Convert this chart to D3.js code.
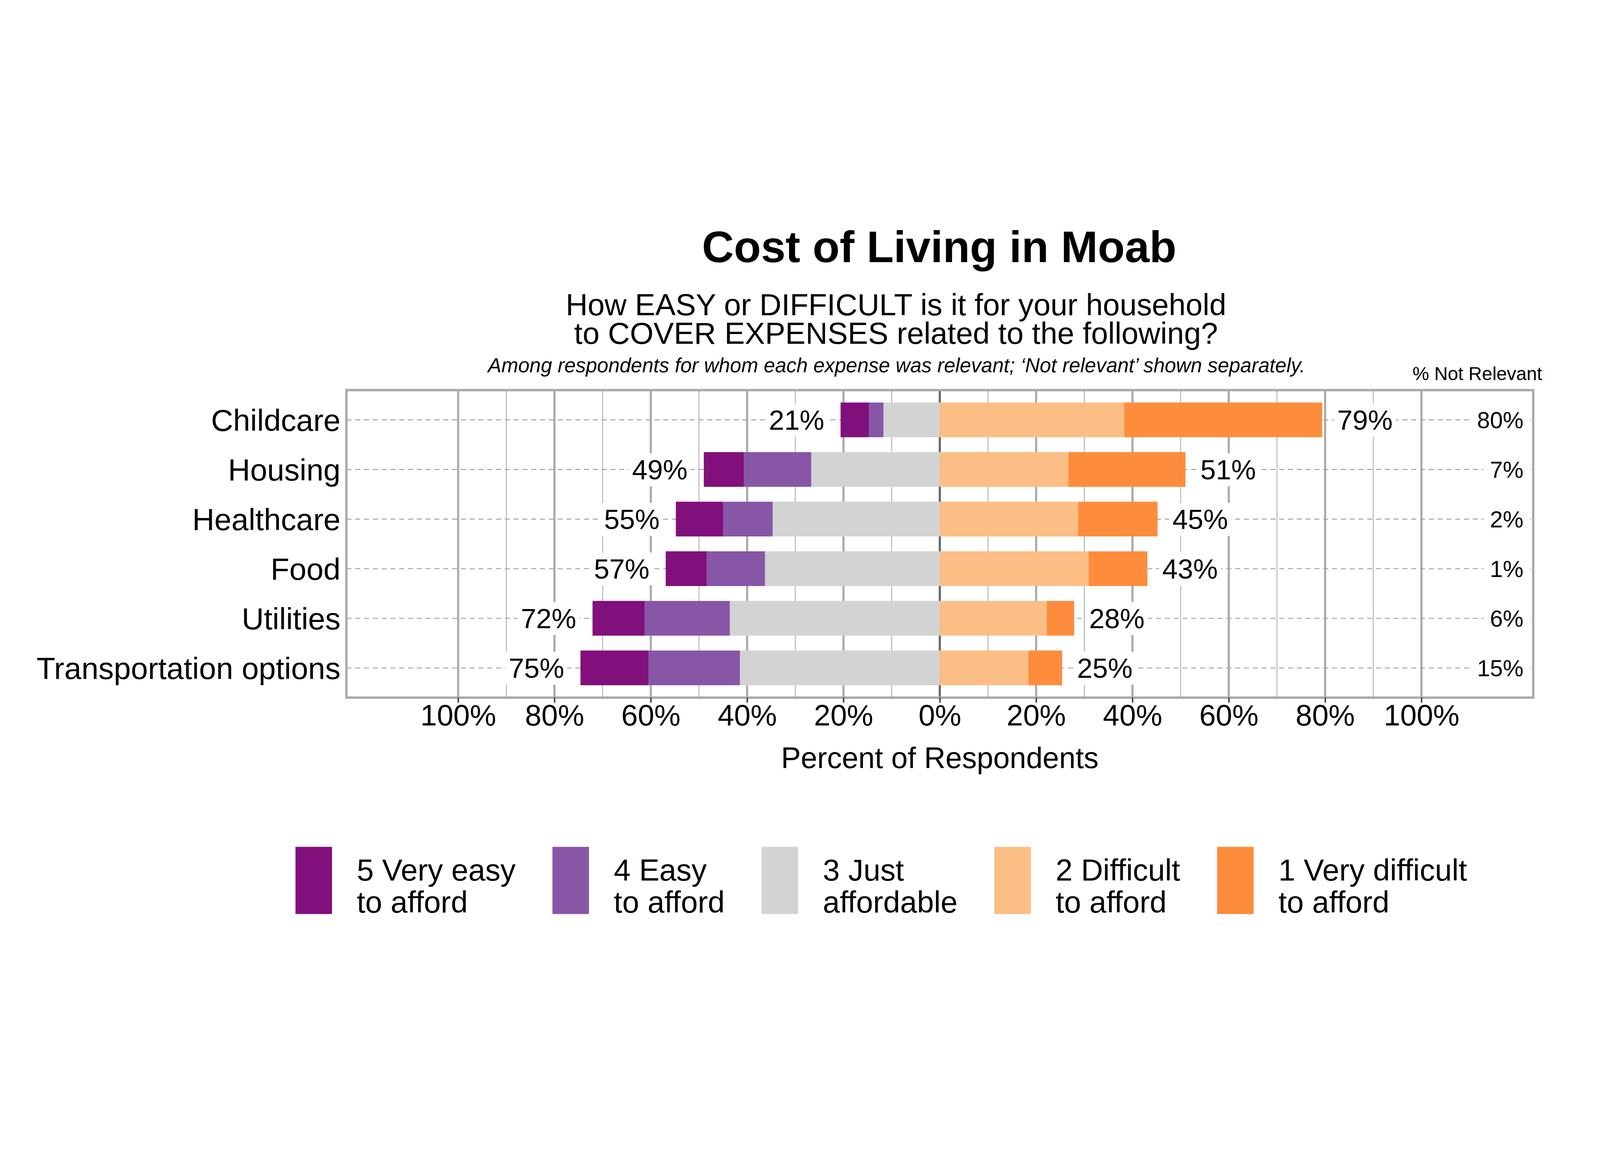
<!DOCTYPE html>
<html>
<head>
<meta charset="utf-8">
<script src="https://cdn.jsdelivr.net/npm/d3@7"></script>
<style>
  html, body { margin: 0; padding: 0; width: 100%; height: 100%; overflow: hidden; background: #fff; }
  svg { display: block; width: 100vw; height: 100vh; }
  text { font-family: "Liberation Sans", Arial, sans-serif; }
</style>
</head>
<body>
<script>
// values (percent of respondents for whom the expense was relevant)
const categories = ['Childcare', 'Housing', 'Healthcare', 'Food', 'Utilities', 'Transportation options'];
const veryEasy = [5.9, 8.3, 9.8, 8.5, 10.8, 14.1];
const easy = [3.0, 14.0, 10.3, 12.1, 17.7, 19.0];
const justAffordable = [11.7, 26.7, 34.7, 36.3, 43.6, 41.5];
const difficult = [38.3, 26.7, 28.7, 30.9, 22.2, 18.4];
const veryDifficult = [41.1, 24.3, 16.5, 12.2, 5.7, 7.0];
const notRelevant = [80, 7, 2, 1, 6, 15];

const majorTicks = [-100, -80, -60, -40, -20, 0, 20, 40, 60, 80, 100];
const minorTicks = [-90, -70, -50, -30, -10, 10, 30, 50, 70, 90];

const legendLabels = [
  ['5 Very easy', 'to afford'],
  ['4 Easy', 'to afford'],
  ['3 Just', 'affordable'],
  ['2 Difficult', 'to afford'],
  ['1 Very difficult', 'to afford']
];
const colors = ['#810f7c', '#8856a7', '#d3d3d3', '#fdbe85', '#fd8d3c'];

const W = 6000, H = 3000;
const panel = { left: 1299, right: 5749.5, top: 765.5, bottom: 1918.6 };

const svg = d3.select('body').append('svg')
  .attr('viewBox', `0 0 ${W} ${H}`)
  .attr('preserveAspectRatio', 'xMidYMid meet');
svg.append('rect').attr('width', W).attr('height', H).attr('fill', '#fff');

const x = d3.scaleLinear().domain([-123.2, 123.2]).range([panel.left, panel.right]);
const y = d3.scaleBand().domain(categories).range([panel.top, panel.bottom])
  .paddingInner(0.3).paddingOuter(0.25);

// vertical grid
svg.append('g').selectAll('line').data(minorTicks).enter().append('line')
  .attr('x1', d => x(d)).attr('x2', d => x(d))
  .attr('y1', panel.top).attr('y2', panel.bottom)
  .attr('stroke', '#b4b4b4').attr('stroke-width', 3.5);
svg.append('g').selectAll('line').data(majorTicks.filter(d => d !== 0)).enter().append('line')
  .attr('x1', d => x(d)).attr('x2', d => x(d))
  .attr('y1', panel.top).attr('y2', panel.bottom)
  .attr('stroke', '#aaaaaa').attr('stroke-width', 8);
svg.append('line')
  .attr('x1', x(0)).attr('x2', x(0)).attr('y1', panel.top).attr('y2', panel.bottom)
  .attr('stroke', '#666666').attr('stroke-width', 8);

// dashed horizontal grid
svg.append('g').selectAll('line').data(categories).enter().append('line')
  .attr('x1', panel.left).attr('x2', panel.right)
  .attr('y1', d => y(d) + y.bandwidth() / 2).attr('y2', d => y(d) + y.bandwidth() / 2)
  .attr('stroke', '#a0a0a0').attr('stroke-width', 3.5).attr('stroke-dasharray', '19,14');

// stacked segments: left side = just, easy, very easy going out from zero; right side = difficult, very difficult
const segs = [];
categories.forEach((c, i) => {
  let l = 0;
  [[justAffordable[i], 2], [easy[i], 1], [veryEasy[i], 0]].forEach(([v, k]) => {
    segs.push({ cat: c, x0: -(l + v), x1: -l, k: k });
    l += v;
  });
  let r = 0;
  [[difficult[i], 3], [veryDifficult[i], 4]].forEach(([v, k]) => {
    segs.push({ cat: c, x0: r, x1: r + v, k: k });
    r += v;
  });
});

svg.append('g').selectAll('rect').data(segs).enter().append('rect')
  .attr('x', d => x(d.x0))
  .attr('width', d => x(d.x1) - x(d.x0))
  .attr('y', d => y(d.cat))
  .attr('height', y.bandwidth())
  .attr('fill', d => colors[d.k]);

// labels with white boxes
function boxLabel(g, tx, ty, str, anchor, size, padX, padY) {
  const grp = g.append('g');
  const rect = grp.append('rect').attr('fill', '#fff');
  const t = grp.append('text').attr('x', tx).attr('y', ty)
    .attr('text-anchor', anchor).attr('font-size', size).attr('fill', '#000').text(str);
  const b = t.node().getBBox();
  rect.attr('x', b.x - padX).attr('y', b.y - padY)
    .attr('width', b.width + 2 * padX).attr('height', b.height + 2 * padY);
}

const labelG = svg.append('g');
categories.forEach((c, i) => {
  const cy = y(c) + y.bandwidth() / 2;
  const leftTot = veryEasy[i] + easy[i] + justAffordable[i];
  const rightTot = difficult[i] + veryDifficult[i];
  boxLabel(labelG, x(-leftTot) - 61, cy + 37, Math.round(leftTot) + '%', 'end', 104, 12, 4);
  boxLabel(labelG, x(rightTot) + 56, cy + 37, Math.round(rightTot) + '%', 'start', 104, 12, 4);
  boxLabel(labelG, 5713, cy + 31, notRelevant[i] + '%', 'end', 87, 24, 8);
});

// panel border
svg.append('rect')
  .attr('x', panel.left).attr('y', panel.top)
  .attr('width', panel.right - panel.left).attr('height', panel.bottom - panel.top)
  .attr('fill', 'none').attr('stroke', '#aaaaaa').attr('stroke-width', 9);

// x axis
const xAxis = svg.append('g').attr('transform', `translate(0,${panel.bottom})`)
  .call(d3.axisBottom(x).tickValues(majorTicks).tickSize(19).tickPadding(6)
    .tickFormat(d => Math.abs(d) + '%'));
xAxis.select('.domain').remove();
xAxis.selectAll('.tick line').attr('stroke', '#333333').attr('stroke-width', 5);
xAxis.selectAll('.tick text').attr('font-size', 111).attr('fill', '#000')
  .attr('font-family', '"Liberation Sans", Arial, sans-serif');

// y axis
const yAxis = svg.append('g').attr('transform', `translate(${panel.left},0)`)
  .call(d3.axisLeft(y).tickSize(0).tickPadding(22));
yAxis.select('.domain').remove();
yAxis.selectAll('.tick text').attr('font-size', 115).attr('fill', '#000').attr('dy', '0.36em')
  .attr('font-family', '"Liberation Sans", Arial, sans-serif');

// axis title
svg.append('text').attr('x', (panel.left + panel.right) / 2).attr('y', 2183)
  .attr('text-anchor', 'middle').attr('font-size', 111).text('Percent of Respondents');

// titles
svg.append('text').attr('x', 3522).attr('y', 286).attr('text-anchor', 'middle')
  .attr('font-size', 166).attr('font-weight', 'bold').text('Cost of Living in Moab');
svg.append('text').attr('x', 3360).attr('y', 485).attr('text-anchor', 'middle')
  .attr('font-size', 114).text('How EASY or DIFFICULT is it for your household');
svg.append('text').attr('x', 3360).attr('y', 592).attr('text-anchor', 'middle')
  .attr('font-size', 114).text('to COVER EXPENSES related to the following?');
svg.append('text').attr('x', 3362).attr('y', 699).attr('text-anchor', 'middle')
  .attr('font-size', 76).attr('font-style', 'italic')
  .text('Among respondents for whom each expense was relevant; \u2018Not relevant\u2019 shown separately.');
svg.append('text').attr('x', 5783).attr('y', 728).attr('text-anchor', 'end')
  .attr('font-size', 70).text('% Not Relevant');

// legend
const legend = svg.append('g');
let lx = 1108;
legendLabels.forEach((lines, i) => {
  legend.append('rect').attr('x', lx).attr('y', 2478).attr('width', 137).attr('height', 252)
    .attr('fill', colors[i]);
  const t = legend.append('text').attr('font-size', 114);
  lines.forEach((s, j) => {
    t.append('tspan').attr('x', lx + 230).attr('y', 2604 + j * 121).text(s);
  });
  lx = lx + 230 + t.node().getBBox().width + 138;
});
</script>
</body>
</html>
